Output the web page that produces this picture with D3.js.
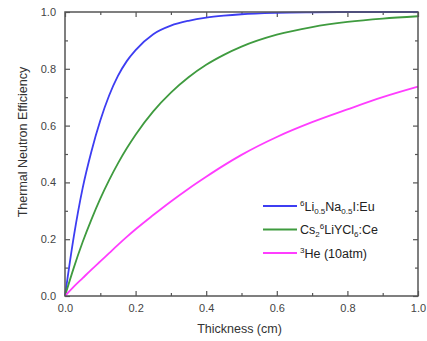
<!DOCTYPE html>
<html>
<head>
<meta charset="utf-8">
<script src="https://cdn.jsdelivr.net/npm/d3@7"></script>
<style>
  html, body { margin: 0; padding: 0; background: #fff; }
  svg { display: block; font-family: 'Liberation Sans', Arial, sans-serif; }
  .axis path { display: none; }
  .axis line { stroke: #555; stroke-width: 1.2; }
  .axis text { fill: #444; font-size: 11px; }
</style>
</head>
<body>
<svg id="chart" width="427" height="341"></svg>
<script>
// thickness grid (cm)
const thickness = [0, 0.025, 0.05, 0.075, 0.1, 0.125, 0.15, 0.175, 0.2, 0.25, 0.3, 0.35, 0.4, 0.45, 0.5, 0.6, 0.7, 0.8, 0.9, 1.0];
const liNaI   = [0, 0.21, 0.38, 0.51, 0.618, 0.706, 0.775, 0.827, 0.866, 0.922, 0.952, 0.969, 0.98, 0.987, 0.992, 0.997, 0.999, 1.0, 1.0, 1.0];
const clyc    = [0, 0.10, 0.19, 0.27, 0.343, 0.408, 0.467, 0.52, 0.568, 0.65, 0.716, 0.77, 0.814, 0.849, 0.878, 0.92, 0.947, 0.965, 0.977, 0.985];
const helium3 = [0, 0.033, 0.063, 0.093, 0.122, 0.151, 0.18, 0.208, 0.235, 0.285, 0.333, 0.378, 0.42, 0.46, 0.497, 0.56, 0.612, 0.657, 0.70, 0.737];

const majorTicks = [0, 0.2, 0.4, 0.6, 0.8, 1.0];
const minorTicks = [0.1, 0.3, 0.5, 0.7, 0.9];

const series = [
  { values: liNaI,   color: '#3d3df2' },
  { values: clyc,    color: '#3f9b3f' },
  { values: helium3, color: '#ff3dff' }
];

const margin = { top: 12, right: 9, bottom: 45, left: 65 };
const width = 427 - margin.left - margin.right;
const height = 341 - margin.top - margin.bottom;

const svg = d3.select('#chart');
const g = svg.append('g').attr('transform', `translate(${margin.left},${margin.top})`);

const x = d3.scaleLinear().domain([0, 1]).range([0, width]);
const y = d3.scaleLinear().domain([0, 1]).range([height, 0]);

// major + minor ticks, pointing inward on all four sides
const fmt = d3.format('.1f');
g.append('g').attr('class', 'axis').attr('transform', `translate(0,${height})`)
  .call(d3.axisBottom(x).tickValues(majorTicks).tickFormat(fmt).tickSizeInner(-5).tickPadding(8));
g.append('g').attr('class', 'axis').attr('transform', `translate(0,${height})`)
  .call(d3.axisBottom(x).tickValues(minorTicks).tickFormat('').tickSizeInner(-3));
g.append('g').attr('class', 'axis')
  .call(d3.axisTop(x).tickValues(majorTicks).tickFormat('').tickSizeInner(-5));
g.append('g').attr('class', 'axis')
  .call(d3.axisTop(x).tickValues(minorTicks).tickFormat('').tickSizeInner(-3));

g.append('g').attr('class', 'axis')
  .call(d3.axisLeft(y).tickValues(majorTicks).tickFormat(fmt).tickSizeInner(-5).tickPadding(9));
g.append('g').attr('class', 'axis')
  .call(d3.axisLeft(y).tickValues(minorTicks).tickFormat('').tickSizeInner(-3));
g.append('g').attr('class', 'axis').attr('transform', `translate(${width},0)`)
  .call(d3.axisRight(y).tickValues(majorTicks).tickFormat('').tickSizeInner(-5));
g.append('g').attr('class', 'axis').attr('transform', `translate(${width},0)`)
  .call(d3.axisRight(y).tickValues(minorTicks).tickFormat('').tickSizeInner(-3));

const line = d3.line()
  .x((d, i) => x(thickness[i]))
  .y(d => y(d))
  .curve(d3.curveMonotoneX);

series.forEach(s => {
  g.append('path')
    .datum(s.values)
    .attr('fill', 'none')
    .attr('stroke', s.color)
    .attr('stroke-width', 1.8)
    .attr('d', line);
});

// frame
g.append('rect')
  .attr('width', width).attr('height', height)
  .attr('fill', 'none').attr('stroke', '#555').attr('stroke-width', 1.5);

// axis titles
svg.append('text')
  .attr('x', margin.left + width / 2 - 2).attr('y', 333)
  .attr('text-anchor', 'middle').attr('fill', '#333').attr('font-size', 12.5)
  .text('Thickness (cm)');
svg.append('text')
  .attr('transform', `translate(27,${margin.top + height / 2 - 12}) rotate(-90)`)
  .attr('text-anchor', 'middle').attr('fill', '#333').attr('font-size', 12.5)
  .text('Thermal Neutron Efficiency');

// legend
const legendParts = [
  [['6', 'sup'], ['Li', ''], ['0.5', 'sub'], ['Na', ''], ['0.5', 'sub'], ['I:Eu', '']],
  [['Cs', ''], ['2', 'sub'], ['6', 'sup'], ['LiYCl', ''], ['6', 'sub'], [':Ce', '']],
  [['3', 'sup'], ['He (10atm)', '']]
];
const shift = { sup: -5, sub: 3, '': 0 };
const legend = svg.append('g').attr('transform', 'translate(263,206)');
legendParts.forEach((parts, i) => {
  const row = legend.append('g').attr('transform', `translate(0,${i * 23.5})`);
  row.append('line').attr('x1', 0).attr('x2', 34)
    .attr('stroke', series[i].color).attr('stroke-width', 1.8);
  const t = row.append('text').attr('x', 37).attr('y', 4.5)
    .attr('fill', '#222').attr('font-size', 12.5);
  let cur = 0;
  parts.forEach(([txt, kind]) => {
    t.append('tspan')
      .attr('dy', shift[kind] - cur)
      .attr('font-size', kind ? 8 : 12.5)
      .text(txt);
    cur = shift[kind];
  });
});
</script>
</body>
</html>
